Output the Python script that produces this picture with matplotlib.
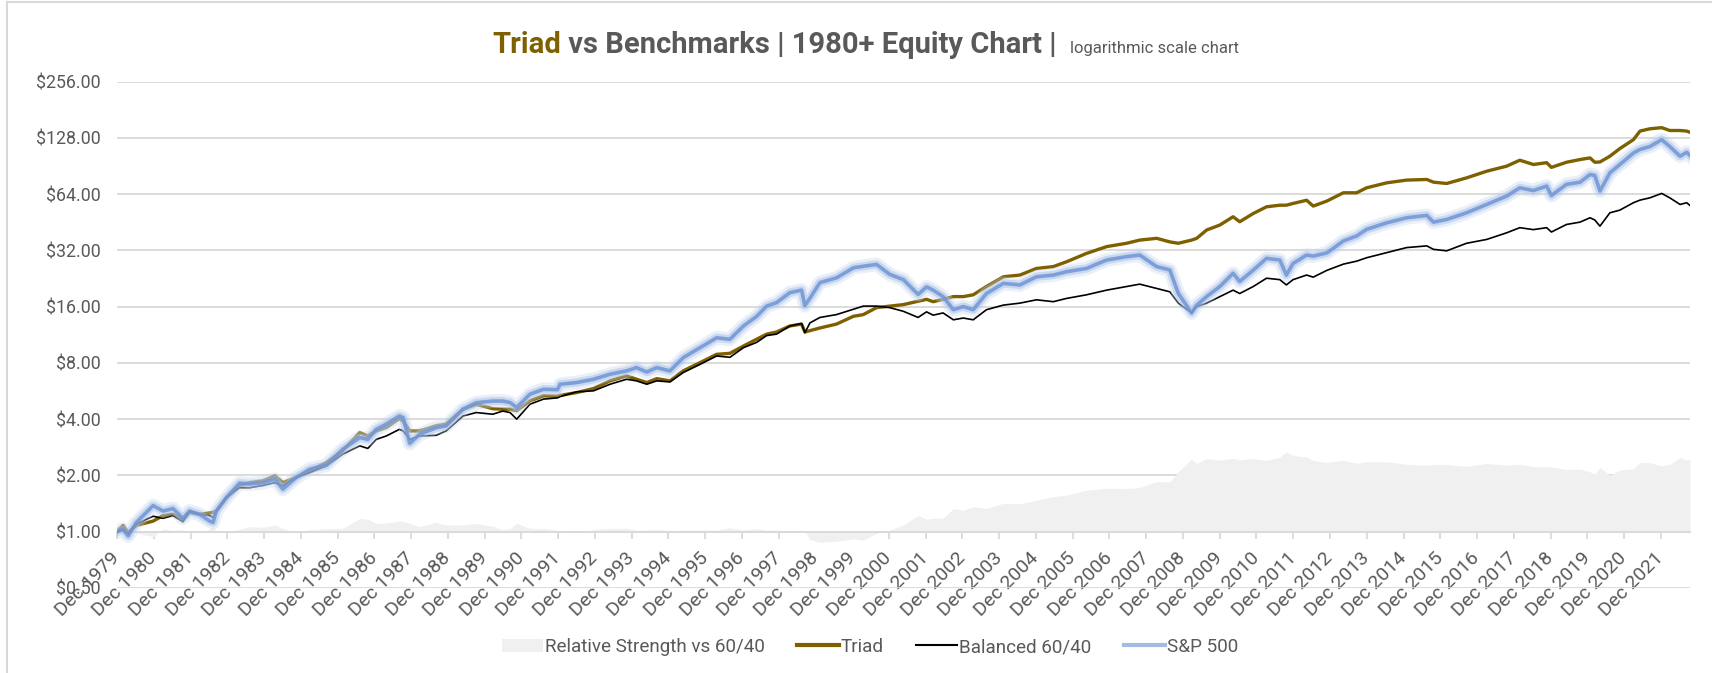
import matplotlib
matplotlib.use('Agg')
import matplotlib.pyplot as plt
import numpy as np
from matplotlib.lines import Line2D
from matplotlib.patches import Patch, Rectangle

plt.rcParams['font.family'] = ['Roboto', 'DejaVu Sans']

# ---------------- data (decimal years, growth of $1) ----------------
dates = [1979.92, 1980.08, 1980.22, 1980.44, 1980.90, 1981.17, 1981.44, 1981.71, 1981.89,
         1982.16, 1982.44, 1982.53, 1982.62, 1982.89, 1983.25, 1983.53, 1983.89, 1984.21,
         1984.43, 1984.79, 1985.16, 1985.61, 1986.06, 1986.52, 1986.74, 1986.97, 1987.24,
         1987.60, 1987.70, 1987.88, 1988.15, 1988.60, 1988.87, 1989.33, 1989.69, 1990.14,
         1990.41, 1990.61, 1990.79, 1991.15, 1991.52, 1991.90, 1991.97, 1992.42, 1992.88,
         1993.33, 1993.78, 1994.05, 1994.33, 1994.60, 1994.96, 1995.32, 1995.78, 1996.23,
         1996.59, 1996.96, 1997.32, 1997.59, 1997.86, 1998.22, 1998.54, 1998.63, 1998.77,
         1999.04, 1999.49, 1999.95, 2000.22, 2000.58, 2000.94, 2001.31, 2001.71, 2001.94,
         2002.12, 2002.39, 2002.67, 2002.94, 2003.21, 2003.57, 2004.03, 2004.48, 2004.93,
         2005.39, 2005.75, 2006.29, 2006.84, 2007.38, 2007.74, 2008.20, 2008.56, 2008.79,
         2009.15, 2009.29, 2009.56, 2009.92, 2010.28, 2010.46, 2010.83, 2011.19, 2011.55,
         2011.73, 2011.91, 2012.28, 2012.46, 2012.83, 2013.28, 2013.64, 2013.91, 2014.46,
         2015.00, 2015.55, 2015.73, 2016.09, 2016.63, 2017.18, 2017.72, 2018.08, 2018.45,
         2018.81, 2018.94, 2019.35, 2019.72, 2019.99, 2020.12, 2020.26, 2020.53, 2020.80,
         2021.17, 2021.35, 2021.62, 2021.94, 2022.16, 2022.44, 2022.62, 2022.71]

triad = [1.00, 1.08, 0.99, 1.08, 1.14, 1.22, 1.24, 1.16, 1.27,
         1.24, 1.26, 1.27, 1.29, 1.52, 1.77, 1.83, 1.87, 1.99,
         1.83, 1.95, 2.12, 2.34, 2.71, 3.39, 3.25, 3.46, 3.61,
         4.03, 3.91, 3.46, 3.46, 3.68, 3.76, 4.52, 4.80, 4.55,
         4.52, 4.52, 4.44, 5.01, 5.33, 5.30, 5.36, 5.55, 5.83,
         6.41, 6.81, 6.54, 6.28, 6.59, 6.41, 7.25, 8.03, 8.89,
         9.00, 9.85, 10.7, 11.4, 11.7, 12.6, 12.9, 11.7, 11.9,
         12.3, 12.9, 14.2, 14.5, 15.8, 16.1, 16.4, 17.1, 17.5,
         17.0, 17.5, 18.1, 18.1, 18.5, 20.5, 23.1, 23.6, 25.6,
         26.2, 27.8, 30.8, 33.5, 34.9, 36.3, 37.1, 35.5, 34.9,
         36.3, 37.1, 41.1, 43.7, 48.4, 45.5, 50.4, 54.7, 55.8,
         55.8, 57.0, 59.3, 55.2, 58.7, 65.0, 65.0, 69.1, 73.5,
         76.0, 76.6, 74.1, 72.9, 78.1, 84.8, 90.2, 97.1, 92.1,
         94.2, 88.9, 94.7, 97.9, 99.9, 94.7, 95.0, 102.0, 112.0,
         125.0, 139.0, 143.0, 145.0, 140.0, 140.0, 139.0, 137.0]

balanced = [1.00, 1.03, 0.97, 1.10, 1.21, 1.18, 1.22, 1.13, 1.29,
            1.24, 1.22, 1.19, 1.29, 1.52, 1.72, 1.72, 1.77, 1.83,
            1.76, 1.95, 2.07, 2.25, 2.60, 2.88, 2.79, 3.12, 3.25,
            3.53, 3.46, 3.12, 3.25, 3.28, 3.46, 4.16, 4.34, 4.25,
            4.42, 4.34, 4.00, 4.81, 5.12, 5.20, 5.28, 5.60, 5.67,
            6.15, 6.54, 6.41, 6.15, 6.41, 6.33, 7.10, 7.86, 8.71,
            8.57, 9.65, 10.3, 11.2, 11.4, 12.6, 13.0, 11.6, 13.1,
            14.0, 14.5, 15.5, 16.1, 16.1, 15.8, 15.1, 14.0, 15.0,
            14.4, 14.8, 13.6, 13.9, 13.6, 15.4, 16.3, 16.7, 17.4,
            17.0, 17.7, 18.5, 19.6, 20.5, 21.1, 20.0, 19.2, 16.7,
            14.8, 16.0, 16.7, 18.1, 19.6, 18.8, 20.5, 22.7, 22.3,
            20.9, 22.3, 23.6, 23.0, 25.0, 27.0, 28.0, 29.2, 31.1,
            33.1, 33.8, 32.4, 31.8, 34.9, 36.6, 39.7, 42.3, 41.3,
            42.3, 40.1, 44.0, 45.3, 47.8, 46.5, 43.1, 50.8, 52.5,
            57.5, 59.4, 61.1, 64.5, 61.1, 56.3, 57.5, 55.6]

sp500 = [1.00, 1.03, 0.95, 1.12, 1.38, 1.29, 1.33, 1.18, 1.29,
         1.24, 1.14, 1.12, 1.29, 1.52, 1.82, 1.80, 1.83, 1.91,
         1.69, 1.95, 2.16, 2.27, 2.76, 3.19, 3.12, 3.53, 3.76,
         4.16, 4.08, 2.97, 3.32, 3.60, 3.68, 4.52, 4.90, 5.00,
         5.00, 4.91, 4.62, 5.44, 5.78, 5.75, 6.15, 6.28, 6.54,
         6.96, 7.25, 7.55, 7.15, 7.55, 7.25, 8.53, 9.65, 10.9,
         10.7, 12.6, 14.2, 16.1, 16.8, 19.0, 19.6, 16.2, 17.8,
         21.5, 22.8, 25.8, 26.3, 26.9, 23.8, 22.3, 18.6, 20.4,
         19.6, 18.1, 15.4, 16.0, 15.4, 18.8, 21.3, 20.9, 23.1,
         23.6, 24.6, 25.6, 28.4, 29.6, 30.2, 26.2, 25.1, 18.8,
         14.8, 16.3, 18.1, 20.5, 24.1, 21.8, 25.1, 29.0, 28.4,
         23.6, 27.2, 30.2, 29.8, 31.0, 35.9, 38.2, 41.4, 44.9,
         47.8, 49.2, 45.3, 46.8, 50.8, 56.3, 62.4, 69.1, 66.8,
         70.6, 62.9, 72.1, 74.1, 81.4, 80.4, 66.4, 83.1, 92.1,
         106.0, 111.0, 115.0, 125.0, 115.0, 102.0, 107.0, 103.0]

label_years = list(range(1979, 2022))
tick_labels = [f"Dec {y}" for y in label_years]
y_ticks = [0.5, 1, 2, 4, 8, 16, 32, 64, 128, 256]
series_names = ["Relative Strength vs 60/40", "Triad", "Balanced 60/40", "S&P 500"]

# ---------------- figure ----------------
W, H = 1712, 673
fig = plt.figure(figsize=(W / 100, H / 100), dpi=100)
fig.patch.set_facecolor('white')
ax = fig.add_axes([117 / W, (H - 588) / H, (1690 - 117) / W, (588 - 81.5) / H])

ax.set_yscale('log', base=2)
ax.set_ylim(0.5, 256)
ax.set_xlim(dates[0], dates[-1])

d = np.array(dates)
rel = np.array(triad) / np.array(balanced)
ax.fill_between(d, 1, rel, color='#F0F0F0', lw=0, zorder=1)

ax.plot(d, triad, color='#7F6000', lw=2.4, zorder=3, solid_joinstyle='round')
ax.plot(d, balanced, color='black', lw=1.2, zorder=4, solid_joinstyle='round')
ax.plot(d, sp500, color='#C5D4EE', lw=10, alpha=0.35, zorder=5, solid_joinstyle='round')
ax.plot(d, sp500, color='#A9BFE6', lw=6, alpha=0.5, zorder=5, solid_joinstyle='round')
ax.plot(d, sp500, color='#7096D6', lw=2.6, alpha=0.85, zorder=6, solid_joinstyle='round')

# y axis
ax.set_yticks(y_ticks, [f"${v:.2f}" for v in y_ticks])
ax.yaxis.set_minor_locator(matplotlib.ticker.NullLocator())
ax.tick_params(axis='y', length=0, pad=12, labelsize=12.8, labelcolor='#595959')
ax.yaxis.grid(True, color='#D9D9D9', lw=1.3)
ax.set_axisbelow(True)

# x axis at $1
for s in ['left', 'right', 'top']:
    ax.spines[s].set_visible(False)
ax.spines['bottom'].set_position(('data', 1))
ax.spines['bottom'].set_color('#D9D9D9')
ax.spines['bottom'].set_linewidth(1.3)
ax.spines['bottom'].set_zorder(2)
xt = [y + 11 / 12 for y in label_years]
ax.set_xticks(xt, tick_labels, rotation=45, ha='right', va='center', rotation_mode='anchor')
ax.tick_params(axis='x', length=5, width=1.3, color='#D9D9D9', pad=12,
               labelsize=14, labelcolor='#595959')

# legend
handles = [Patch(facecolor='#F0F0F0', edgecolor='none'),
           Line2D([], [], color='#7F6000', lw=3),
           Line2D([], [], color='black', lw=1.5),
           Line2D([], [], color='#A4BCE4', lw=3)]
fig.legend(handles, series_names, loc='center', bbox_to_anchor=(870 / W, 1 - 647 / H),
           ncol=4, frameon=False, fontsize=13.6, handlelength=2.2, handletextpad=0.1,
           columnspacing=1.7, labelcolor='#595959')

# border
fig.add_artist(Rectangle((7 / W, -0.1), 1.2, 1.1 - 2 / H, transform=fig.transFigure,
                         fill=False, edgecolor='#D9D9D9', lw=1.5))

# title pieces chained
fig.canvas.draw()
r = fig.canvas.get_renderer()
x = 492
yb = 1 - 53 / H
pieces = [("Triad", '#7F6000', 'bold', 21, 0),
          (" vs Benchmarks | 1980+ Equity Chart |", '#595959', 'bold', 21, 0),
          ("logarithmic scale chart", '#595959', 'normal', 12, 14)]
for txt, col, wt, fs, gap in pieces:
    x += gap
    t = fig.text(x / W, yb, txt, color=col, fontweight=wt, fontsize=fs, va='baseline', ha='left')
    bb = t.get_window_extent(r)
    x = bb.x1

fig.savefig('out.png', dpi=100)
